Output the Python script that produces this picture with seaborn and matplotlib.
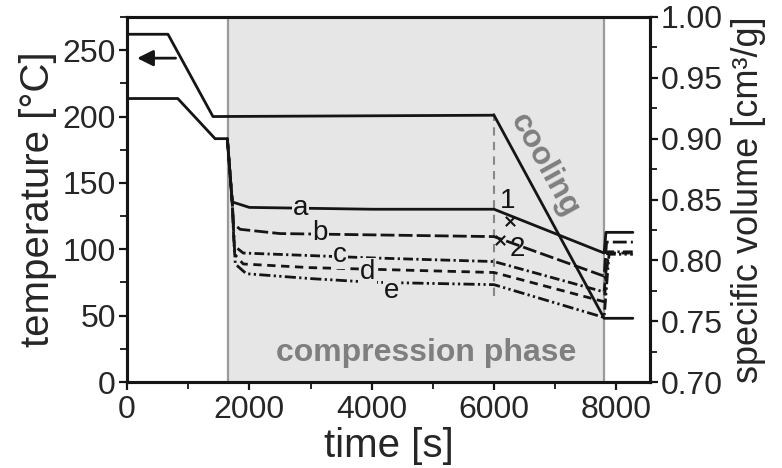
import matplotlib
matplotlib.use("Agg")
import matplotlib.pyplot as plt
import seaborn as sns
import pandas as pd
from matplotlib.ticker import MultipleLocator

# ---------------- data ----------------
temp_time = [0, 670, 1405, 6000, 7800, 8270]
temp_vals = [262, 262, 200, 201, 48, 48]

pre_time = [0, 830, 1440, 1640]
pre_vol = [0.933, 0.933, 0.900, 0.900]

a_time = [1640, 1720, 2000, 4000, 6000, 7800, 7830, 8270]
a_vol = [0.900, 0.848, 0.8435, 0.842, 0.842, 0.806, 0.823, 0.823]

b_time = [1640, 1720, 1740, 1850, 2500, 6000, 7800, 7840, 8270]
b_vol = [0.900, 0.848, 0.830, 0.8255, 0.822, 0.8195, 0.787, 0.815, 0.815]

c_time = [1640, 1720, 1750, 1900, 4000, 6000, 7800, 7860, 8270]
c_vol = [0.900, 0.848, 0.812, 0.806, 0.802, 0.799, 0.774, 0.807, 0.807]

d_time = [1640, 1720, 1760, 1900, 3000, 6000, 7800, 7870, 8270]
d_vol = [0.900, 0.848, 0.805, 0.797, 0.794, 0.790, 0.766, 0.806, 0.806]

e_time = [1640, 1720, 1770, 1950, 3000, 4000, 6000, 7800, 7880, 8270]
e_vol = [0.900, 0.848, 0.797, 0.789, 0.785, 0.782, 0.780, 0.753, 0.805, 0.805]

curve_labels = ["a", "b", "c", "d", "e"]
label_time = [2830, 3155, 3480, 3940, 4330]
label_vol = [0.8434, 0.8225, 0.8045, 0.7905, 0.7745]

mark_time = [6260, 6100]
mark_vol = [0.832, 0.8165]
mark_labels = ["1", "2"]
mark_label_time = [6230, 6380]
mark_label_vol = [0.8485, 0.809]

phase_start, phase_end = 1650, 7800
cool_start = 6000

x_ticks = [0, 2000, 4000, 6000, 8000]
y_ticks = [0, 50, 100, 150, 200, 250]
y2_ticks = [0.70, 0.75, 0.80, 0.85, 0.90, 0.95, 1.00]

# ---------------- style ----------------
sns.set_style("ticks")
plt.rcParams['font.family'] = ['Liberation Sans', 'DejaVu Sans']

fig = plt.figure(figsize=(7.82, 4.68), dpi=100)
ax = fig.add_axes([127/782, 86/468, 523/782, 365/468])
ax2 = ax.twinx()

shade = '#e6e6e6'
ax.axvspan(phase_start, phase_end, color=shade, zorder=0, lw=0)
for xv in (phase_start, phase_end):
    ax.axvline(xv, color='#9a9a9a', lw=1.6, zorder=1)
ax.vlines(cool_start, 65, 203, colors='#888888', linestyles=(0, (4, 3)), lw=1.5, zorder=1)

lc = '#151515'
lw = 2.0
sns.lineplot(x=temp_time, y=temp_vals, ax=ax, color=lc, lw=lw, sort=False, estimator=None)

sns.lineplot(x=pre_time, y=pre_vol, ax=ax2, color=lc, lw=lw, sort=False, estimator=None)
styles = ['-', (0, (5, 1.5)), (0, (3.5, 1.2, 0.8, 1.2)), (0, (3, 2)), (0, (4, 1.2, 0.8, 1.2, 0.8, 1.2))]
for (tt, vv), ls in zip([(a_time, a_vol), (b_time, b_vol), (c_time, c_vol),
                         (d_time, d_vol), (e_time, e_vol)], styles):
    sns.lineplot(x=tt, y=vv, ax=ax2, color=lc, lw=lw, sort=False, estimator=None, linestyle=ls)

for lab, tx, vy in zip(curve_labels, label_time, label_vol):
    ax2.text(tx, vy, lab, fontsize=20, ha='center', va='center', color=lc,
             bbox=dict(facecolor=shade, edgecolor='none', pad=0.5), zorder=5)

sns.scatterplot(x=mark_time, y=mark_vol, ax=ax2, marker='x', color=lc, s=45, linewidth=1.5, zorder=6)
for lab, tx, vy in zip(mark_labels, mark_label_time, mark_label_vol):
    ax2.text(tx, vy, lab, fontsize=20, ha='center', va='center', color=lc, zorder=6)

ax.text(6820, 163, "cooling", fontsize=23, fontweight='bold', color='#7f7f7f',
        rotation=-61, ha='center', va='center', rotation_mode='anchor')
ax.text(4890, 22, "compression phase", fontsize=23, fontweight='bold', color='#7f7f7f',
        ha='center', va='center')

ax.annotate('', xy=(120, 244), xytext=(840, 244),
            arrowprops=dict(arrowstyle='-|>', color=lc, lw=2, mutation_scale=24))

ax.set_xlim(0, 8550)
ax.set_ylim(0, 275)
ax2.set_ylim(0.70, 1.00)
ax.set_xticks(x_ticks)
ax.set_yticks(y_ticks)
ax2.set_yticks(y2_ticks)
ax2.set_yticklabels([f"{v:.2f}" for v in y2_ticks])
ax.xaxis.set_minor_locator(MultipleLocator(1000))
ax.yaxis.set_minor_locator(MultipleLocator(25))
ax2.yaxis.set_minor_locator(MultipleLocator(0.025))

ax.set_xlabel("time [s]", fontsize=29, labelpad=2)
ax.set_ylabel("temperature [°C]", fontsize=29, labelpad=4)
ax2.set_ylabel("specific volume [cm³/g]", fontsize=26, labelpad=6)

for a in (ax, ax2):
    for s in a.spines.values():
        s.set_linewidth(2.2)
        s.set_color(lc)
    a.tick_params(which='major', length=6, width=1.6, labelsize=23, pad=2, color=lc)
    a.tick_params(which='minor', length=5, width=1.3, color=lc)
ax.tick_params(axis='x', pad=3)

fig.savefig("out.png", dpi=100)
